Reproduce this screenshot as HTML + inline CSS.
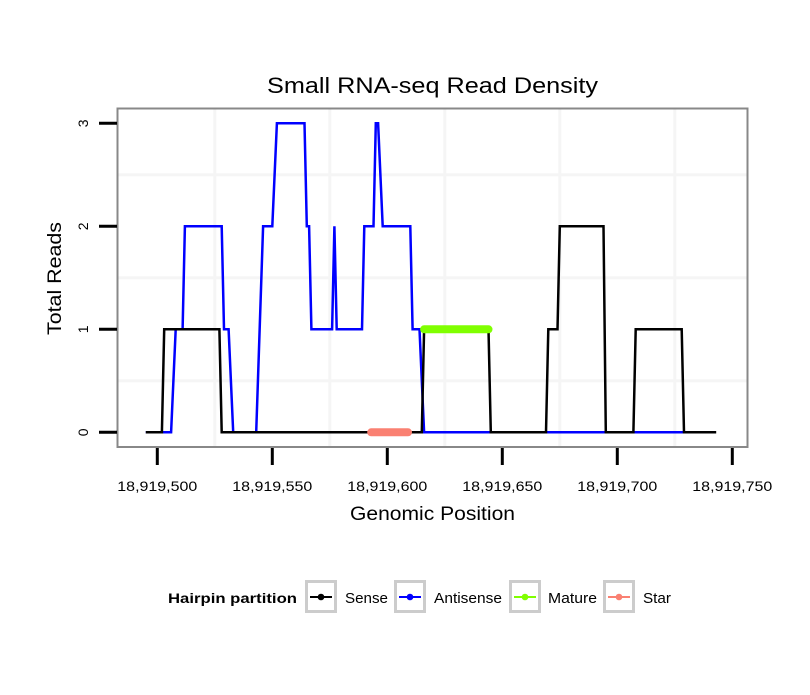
<!DOCTYPE html>
<html><head><meta charset="utf-8"><style>
html,body{margin:0;padding:0;background:#fff;}
svg text{font-family:"Liberation Sans",Arial,sans-serif;}
</style></head><body>
<svg id="chart" width="810" height="690" viewBox="0 0 810 690" xmlns="http://www.w3.org/2000/svg">
<rect x="0" y="0" width="810" height="690" fill="#fff"/>
<text x="267" y="93" font-size="22" textLength="331" lengthAdjust="spacingAndGlyphs" fill="#000">Small RNA-seq Read Density</text>
<g id="grid"></g>
<g id="series"></g>
<rect x="117.5" y="108.5" width="630" height="338.5" fill="none" stroke="#888" stroke-width="2"/>
<g id="axes"></g>
<text x="350" y="520" font-size="19" textLength="165" lengthAdjust="spacingAndGlyphs">Genomic Position</text>
<text transform="translate(61,335) rotate(-90)" font-size="19" textLength="113" lengthAdjust="spacingAndGlyphs">Total Reads</text>
<g>
<text x="168" y="603" font-size="14" font-weight="bold" textLength="129" lengthAdjust="spacingAndGlyphs">Hairpin partition</text>
<g id="legend"></g>
</g>
</svg>
<script>
const xTicks=[18919500,18919550,18919600,18919650,18919700,18919750];
const yTicks=[0,1,2,3];
const sensePos=[18919495,18919502,18919503,18919527,18919528,18919615,18919616,18919644,18919645,18919669,18919670,18919674,18919675,18919694,18919695,18919707,18919708,18919728,18919729,18919743];
const senseVal=[0,0,1,1,0,0,1,1,0,0,1,1,2,2,0,0,1,1,0,0];
const antiPos=[18919495,18919506,18919508,18919511,18919512,18919528,18919529,18919531,18919533,18919543,18919546,18919550,18919552,18919564,18919565,18919566,18919567,18919576,18919577,18919578,18919589,18919590,18919594,18919595,18919596,18919598,18919610,18919611,18919614,18919616,18919729];
const antiVal=[0,0,1,1,2,2,1,1,0,0,2,2,3,3,2,2,1,1,2,1,1,2,2,3,3,2,2,1,1,0,0];
const maturePos=[18919616,18919644];
const matureVal=[1,1];
const starPos=[18919593,18919609];
const starVal=[0,0];
const legendLabels=["Sense","Antisense","Mature","Star"];
const legendColors=["#000000","#0000ff","#80ff00","#fa8072"];

const NS="http://www.w3.org/2000/svg";
function X(v){return 157.3+(v-18919500)*2.3;}
function Y(v){return 432.3-v*103;}
function mk(tag,attrs,parent){const e=document.createElementNS(NS,tag);for(const k in attrs)e.setAttribute(k,attrs[k]);parent.appendChild(e);return e;}
const grid=document.getElementById('grid'),axes=document.getElementById('axes'),series=document.getElementById('series'),legend=document.getElementById('legend');
const labelLen=[80,80,80,80,80,80];
for(let i=0;i<xTicks.length;i++){
  if(i<xTicks.length-1){const m=mk('line',{x1:X((xTicks[i]+xTicks[i+1])/2),x2:X((xTicks[i]+xTicks[i+1])/2),y1:109,y2:446,stroke:'#f5f5f5','stroke-width':3},grid);
  
  }
  const t=mk('line',{x1:X(xTicks[i]),x2:X(xTicks[i]),y1:448,y2:465,stroke:'#000','stroke-width':3},axes);
  
  
  const tx=mk('text',{x:X(xTicks[i])-labelLen[i]/2,y:491,'font-size':14,textLength:labelLen[i],lengthAdjust:'spacingAndGlyphs'},axes);
  tx.textContent=xTicks[i].toLocaleString('en-US');
  
  
}
for(let i=0;i<yTicks.length;i++){
  if(i<yTicks.length-1){const m=mk('line',{x1:118,x2:747,y1:Y(yTicks[i]+0.5),y2:Y(yTicks[i]+0.5),stroke:'#f5f5f5','stroke-width':3},grid);
  
  }
  const t=mk('line',{x1:99,x2:117,y1:Y(yTicks[i]),y2:Y(yTicks[i]),stroke:'#000','stroke-width':3},axes);
  
  
  const tx=mk('text',{transform:'translate(88,'+Y(yTicks[i])+') rotate(-90)','font-size':14,'text-anchor':'middle'},axes);
  tx.textContent=yTicks[i];
  
  
}
function pts(p,v){return p.map((q,i)=>X(q)+','+Y(v[i])).join(' ');}
const sa=mk('polyline',{points:pts(antiPos,antiVal),fill:'none',stroke:'#0000ff','stroke-width':2.5},series);


const ss=mk('polyline',{points:pts(sensePos,senseVal),fill:'none',stroke:'#000','stroke-width':2.5},series);


const sm=mk('polyline',{points:pts(maturePos,matureVal),fill:'none',stroke:'#80ff00','stroke-width':8,'stroke-linecap':'round'},series);


const st=mk('polyline',{points:pts(starPos,starVal),fill:'none',stroke:'#fa8072','stroke-width':8,'stroke-linecap':'round'},series);


const boxX=[305,394,509,603];
const textX=[345,434,548,643];
const textLen=[43,68,49,28];
for(let i=0;i<legendLabels.length;i++){
  const g=mk('g',{},legend);
  
  
  mk('rect',{x:boxX[i]+1.5,y:581.5,width:29,height:30,fill:'#fff',stroke:'#ccc','stroke-width':3},g);
  mk('line',{x1:boxX[i]+5,x2:boxX[i]+27,y1:597,y2:597,stroke:legendColors[i],'stroke-width':2},g);
  mk('circle',{cx:boxX[i]+16,cy:597,r:3.3,fill:legendColors[i]},g);
  const t=mk('text',{x:textX[i],y:603,'font-size':15,textLength:textLen[i],lengthAdjust:'spacingAndGlyphs'},g);
  t.textContent=legendLabels[i];
}
</script>
</body></html>
